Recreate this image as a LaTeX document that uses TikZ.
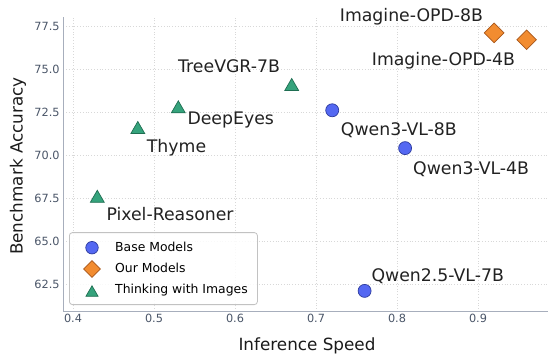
\documentclass[tikz,border=0pt]{standalone}
\usepackage{fontspec}
\setmainfont{DejaVu Sans}
\usetikzlibrary{shapes.geometric}
\definecolor{basefill}{HTML}{5468F2}
\definecolor{baseedge}{HTML}{2E3C9E}
\definecolor{ourfill}{HTML}{F28C30}
\definecolor{ouredge}{HTML}{A8561A}
\definecolor{thinkfill}{HTML}{35A37C}
\definecolor{thinkedge}{HTML}{1F6E52}
\definecolor{gridc}{HTML}{D8D8D8}
\definecolor{spinec}{HTML}{A7AEBC}
\definecolor{tickc}{HTML}{4A5568}
\definecolor{labc}{HTML}{222222}
\tikzset{
  gridline/.style={draw=gridc, line width=0.8bp, dotted},
  spine/.style={draw=spinec, line width=1.3bp},
  ticklab/.style={text=tickc, font=\fontsize{11.3bp}{13bp}\selectfont, inner sep=0pt},
  axlab/.style={text=labc!80!black, font=\fontsize{16.8bp}{20bp}\selectfont, inner sep=0pt},
  ptlab/.style={text=labc, font=\fontsize{17.3bp}{20bp}\selectfont, inner sep=0pt, anchor=base west},
  leglab/.style={text=black, font=\fontsize{12.4bp}{15bp}\selectfont, inner sep=0pt, anchor=base west},
  basem/.style={circle, fill=basefill, draw=baseedge, line width=0.7bp, minimum size=13bp, inner sep=0pt},
  ourm/.style={diamond, fill=ourfill, draw=ouredge, line width=0.7bp, minimum size=20bp, inner sep=0pt},
  thinkm/.style={regular polygon, regular polygon sides=3, fill=thinkfill, draw=thinkedge, line width=0.7bp, minimum size=16bp, inner sep=0pt, yshift=-2bp},
}
\begin{document}
\begin{tikzpicture}[x=1bp,y=1bp]
\useasboundingbox (0,0) rectangle (548,354);
\fill[white] (0,0) rectangle (548,354);
\begin{scope}[x=810bp,y=17.2bp,shift={(-251bp,-1005bp)}]
  % grid
  \foreach \v in {0.4,0.5,0.6,0.7,0.8,0.9}
    \draw[gridline] (\v,60.89) -- (\v,78.02);
  \foreach \v in {62.5,65,67.5,70,72.5,75,77.5}
    \draw[gridline] (0.388,\v) -- (0.986,\v);
  % spines
  \draw[spine] (0.388,78.02) -- (0.388,60.89) -- (0.99,60.89);
  % tick labels
  \foreach \v/\t [count=\i] in {0.4/0.4,0.5/0.5,0.6/0.6,0.7/0.7,0.8/0.8,0.9/0.9}
    \node[ticklab, anchor=base, yshift=-11.3bp] (xt\i) at (\v,60.89) {\t};
  \foreach \v/\t [count=\i] in {62.5/62.5,65/65.0,67.5/67.5,70/70.0,72.5/72.5,75/75.0,77.5/77.5}
    \node[ticklab, anchor=east, xshift=-3.5bp] (yt\i) at (0.388,\v) {\t};
  % data points
  \node[basem] (q8) at (0.72,72.6) {};
  \node[basem] (q4) at (0.81,70.4) {};
  \node[basem] (q25) at (0.76,62.1) {};
  \node[ourm] (o8) at (0.92,77.1) {};
  \node[ourm] (o4) at (0.96,76.7) {};
  \node[thinkm] (pr) at (0.43,67.6) {};
  \node[thinkm] (th) at (0.48,71.6) {};
  \node[thinkm] (de) at (0.53,72.8) {};
  \node[thinkm] (tv) at (0.67,74.1) {};
\end{scope}
% point labels
\node[ptlab] (lo8) at (339.7,332.3) {Imagine-OPD-8B};
\node[ptlab] (lo4) at (371.7,289) {Imagine-OPD-4B};
\node[ptlab] (lq8) at (340.7,219) {Qwen3-VL-8B};
\node[ptlab] (lq4) at (413,180) {Qwen3-VL-4B};
\node[ptlab] (lq25) at (371.3,73) {Qwen2.5-VL-7B};
\node[ptlab] (ltv) at (178,281.3) {TreeVGR-7B};
\node[ptlab] (lde) at (187.3,229.7) {DeepEyes};
\node[ptlab] (lth) at (146.7,201.3) {Thyme};
\node[ptlab] (lpr) at (106.3,133.3) {Pixel-Reasoner};
% axis labels
\node[axlab, anchor=base] (xlab) at (307,4) {Inference Speed};
\node[axlab, anchor=base, rotate=90] (ylab) at (22.5,188) {Benchmark Accuracy};
% legend
\node[draw=gridc!90!black, fill=white, fill opacity=0.85, rounded corners=3bp, line width=0.8bp,
      minimum width=188bp, minimum height=72bp, anchor=south west, inner sep=0pt] (legbox) at (69,49) {};
\node[basem, minimum size=12.5bp] (lm1) at (92,106.3) {};
\node[ourm, minimum size=17bp] (lm2) at (92,85) {};
\node[thinkm, minimum size=14bp, yshift=0bp] (lm3) at (92,63.2) {};
\node[leglab] (lt1) at (115,102.3) {Base Models};
\node[leglab] (lt2) at (115,81.3) {Our Models};
\node[leglab] (lt3) at (115,60.7) {Thinking with Images};
\end{tikzpicture}
\end{document}
